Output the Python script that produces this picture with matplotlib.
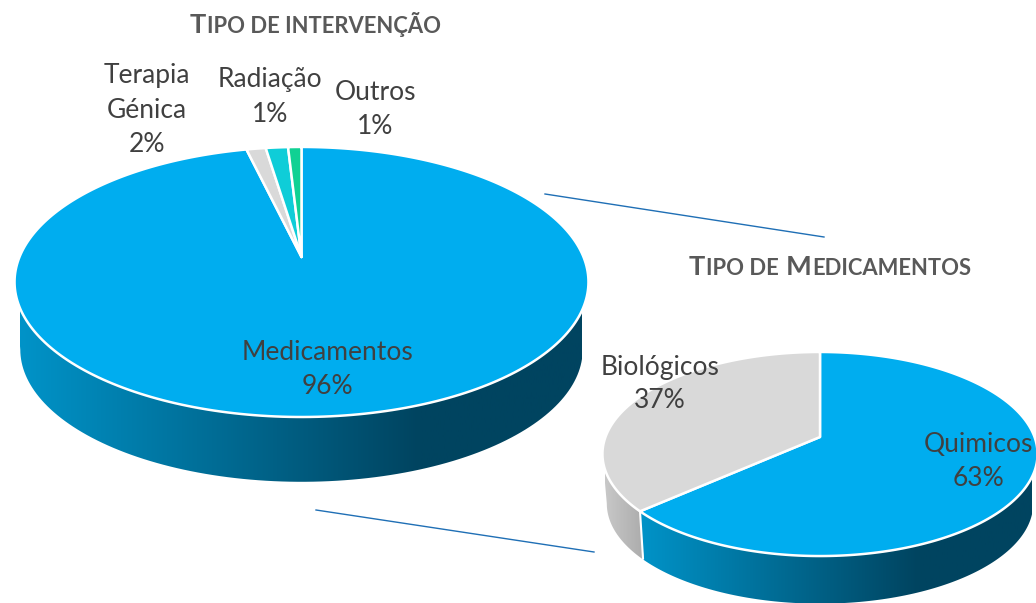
import matplotlib
matplotlib.use('Agg')
import matplotlib.pyplot as plt
import numpy as np
from matplotlib.colors import LinearSegmentedColormap
from matplotlib.patches import Polygon

plt.rcParams['font.family'] = ['Lato', 'DejaVu Sans']

# drawn slice shares differ a little from the rounded labels in the source
interv_names = ['Medicamentos', 'Terapia\nGénica', 'Radiação', 'Outros']
interv_shares = [96.3, 1.3, 1.5, 0.9]
interv_labels = [96, 2, 1, 1]

med_names = ['Quimicos', 'Biológicos']
med_shares = [63.4, 36.6]
med_labels = [63, 37]

BLUE = '#00ADEF'
GRAY = '#D9D9D9'
TEAL = '#0FCDD8'
GREEN = '#10D193'
TEXT = '#404040'
TITLE = '#595959'
LINE = '#1F6FB5'

side_blue = LinearSegmentedColormap.from_list(
    'side_blue', [(0, '#0093C8'), (0.71, '#004460'), (1, '#004460')])
side_gray = LinearSegmentedColormap.from_list('side_gray', ['#C8C8C8', '#ADADAD'])


def project(theta, r, pie):
    # theta clockwise from 12 o'clock, tilted disc with a bit of perspective
    u = r * np.sin(theta)
    v = r * np.cos(theta)
    w = 1 + pie['p'] * v
    return pie['cx'] + pie['a'] * u / w, pie['cy'] - pie['b'] * v / w


def draw_side(ax, t0, t1, pie, cmap, x0, x1):
    th = np.linspace(t0, t1, 120)
    xt, yt = project(th, 1, pie)
    xb = pie['cx'] + (xt - pie['cx']) * 0.98
    yb = pie['cy'] + (yt - pie['cy']) * 0.98 + pie['depth']
    pts = np.r_[np.c_[xt, yt], np.c_[xb, yb][::-1]]
    im = ax.imshow(np.linspace(0, 1, 256).reshape(1, -1), cmap=cmap, aspect='auto',
                   extent=(x0, x1, 603, 0), zorder=1)
    clip = Polygon(pts, closed=True, transform=ax.transData, fc='none', ec='none')
    ax.add_patch(clip)
    im.set_clip_path(clip)


def draw_top(ax, shares, colors, pie):
    edges = np.r_[0, np.cumsum(shares)] / np.sum(shares) * 2 * np.pi
    for i, col in enumerate(colors):
        th = np.linspace(edges[i], edges[i + 1], 300)
        xs, ys = project(th, 1, pie)
        xs = np.r_[pie['cx'], xs]
        ys = np.r_[pie['cy'], ys]
        ax.fill(xs, ys, facecolor=col, edgecolor='white', linewidth=1.8,
                joinstyle='round', zorder=3)
    return edges


def small_caps(ax, parts, x, y, big=19.6, small=15.8):
    # parts: (text, is_big) pieces, laid out left to right from x
    rend = ax.figure.canvas.get_renderer()
    for s, is_big in parts:
        t = ax.text(x, y, s, fontsize=big if is_big else small, fontweight='bold',
                    color=TITLE, ha='left', va='baseline', zorder=5)
        x += t.get_window_extent(rend).width + 1


fig, ax = plt.subplots(figsize=(10.36, 6.03), dpi=100)
fig.subplots_adjust(0, 0, 1, 1)
ax.set_axis_off()

big_pie = dict(cx=301.5, cy=257, a=282, b=130.4, p=0.185, depth=68)
small_pie = dict(cx=820, cy=437, a=214.5, b=99.2, p=0.1667, depth=50)

# sides, only the front part of the rim shows
draw_side(ax, np.radians(100.7), np.radians(259.3), big_pie, side_blue, 20, 582)
edges = np.r_[0, np.cumsum(med_shares)] / np.sum(med_shares) * 2 * np.pi
draw_side(ax, np.radians(99.6), edges[1], small_pie, side_blue, 640, 1032)
draw_side(ax, edges[1], np.radians(260.4), small_pie, side_gray, 605, 642)
xs, ys = project(edges[1], 1, small_pie)
ax.plot([xs, xs + 3], [ys, ys + small_pie['depth'] - 3], color='white', lw=1.5, zorder=2)

draw_top(ax, interv_shares, [BLUE, GRAY, TEAL, GREEN], big_pie)
draw_top(ax, med_shares, [BLUE, GRAY], small_pie)

# connector lines between the two pies
ax.plot([545, 824], [194, 237], color=LINE, lw=1, zorder=2)
ax.plot([316, 594], [510, 552], color=LINE, lw=1, zorder=2)

interv_pos = [(327, 370), (147, 110), (270, 97), (375, 109)]
for name, val, (x, y) in zip(interv_names, interv_labels, interv_pos):
    ax.text(x, y, f'{name}\n{val}%', ha='center', va='center', fontsize=19,
            color=TEXT, linespacing=1.45, zorder=5)

med_pos = [(978, 461), (660, 384)]
for name, val, (x, y) in zip(med_names, med_labels, med_pos):
    ax.text(x, y, f'{name}\n{val}%', ha='center', va='center', fontsize=19,
            color=TEXT, linespacing=1.45, zorder=5)

ax.set_xlim(0, 1036)
ax.set_ylim(603, 0)

fig.canvas.draw()
small_caps(ax, [('T', True), ('IPO DE INTERVENÇÃO', False)], 190, 33)
small_caps(ax, [('T', True), ('IPO DE ', False), ('M', True), ('EDICAMENTOS', False)], 689, 275)

fig.savefig('out.png', dpi=100)
